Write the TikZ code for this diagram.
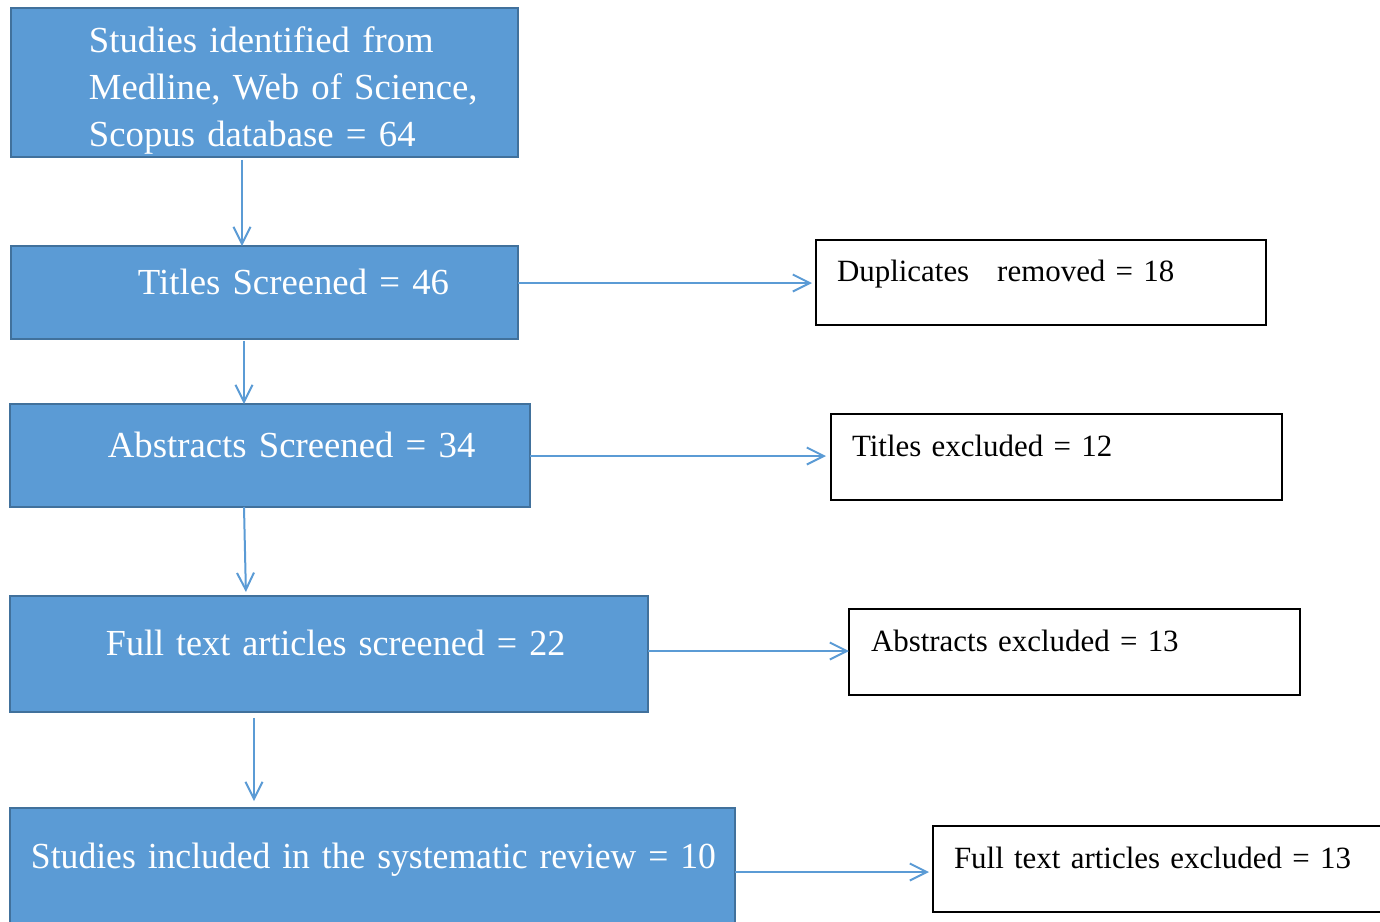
\documentclass[tikz,border=0pt]{standalone}
\usepackage{fontspec}
\setmainfont{Liberation Serif}
\usetikzlibrary{arrows.meta}
\definecolor{stagefill}{HTML}{5B9BD5}
\definecolor{stageedge}{HTML}{41719C}
\tikzset{
  stage/.style={draw=stageedge, fill=stagefill, line width=0.04cm, text=white, anchor=north west,
    align=left, inner ysep=0pt, outer sep=0pt, font=\fontsize{20.9}{26.7}\selectfont},
  excl/.style={draw=black, line width=0.035cm, anchor=north west,
    align=left, inner ysep=0pt, outer sep=0pt, font=\fontsize{17.6}{22}\selectfont},
  flow/.style={draw=stagefill, line width=0.04cm, -{Straight Barb[length=0.34cm,width=0.34cm]}}
}
\begin{document}
\begin{tikzpicture}[x=0.02cm, y=-0.02cm]
      \useasboundingbox (0,0) rectangle (1380,921);
      \node (b1) at (11,8) [stage, inner xsep=1.56cm, text width=7.02cm, text height=0.9cm, text depth=2.08cm]
        {\mbox{Studies identified from}\\\mbox{Medline, Web of Science,}\\\mbox{Scopus database = 64}};
      \node (b2) at (11,246) [stage, inner xsep=2.54cm, text width=5.06cm, text height=0.96cm, text depth=0.9cm]
        {\mbox{Titles Screened = 46}};
      \node (b3) at (10,404) [stage, inner xsep=1.96cm, text width=6.48cm, text height=1.06cm, text depth=1.0cm]
        {\mbox{Abstracts Screened = 34}};
      \node (b4) at (10,596) [stage, inner xsep=1.92cm, text width=8.92cm, text height=1.18cm, text depth=1.14cm]
        {\scalebox{0.983}[1]{Full text articles screened = 22}};
      \node (b5) at (10,808) [stage, inner xsep=0.42cm, text width=13.66cm, text height=1.2cm, text depth=1.64cm]
        {\scalebox{0.97}[1]{Studies included in the systematic review = 10}};
      \node (x1) at (816,240) [excl, inner xsep=0.42cm, text width=8.16cm, text height=0.82cm, text depth=0.88cm]
        {\mbox{Duplicates\hspace{0.56cm}removed = 18}};
      \node (x2) at (831,414) [excl, inner xsep=0.42cm, text width=8.18cm, text height=0.84cm, text depth=0.88cm]
        {\mbox{Titles excluded = 12}};
      \node (x3) at (849,609) [excl, inner xsep=0.44cm, text width=8.14cm, text height=0.84cm, text depth=0.88cm]
        {\mbox{Abstracts excluded = 13}};
      \node (x4) at (933,826) [excl, inner xsep=0.42cm, text width=8.36cm, text height=0.84cm, text depth=0.88cm]
        {\mbox{Full text articles excluded = 13}};
      \draw[flow, shorten <=0.06cm] (b1.south -| 242,0) -- (b2.north -| 242,0);
      \draw[flow, shorten <=0.04cm] (b2.south -| 244,0) -- (b3.north -| 244,0);
      \draw[flow, shorten >=0.08cm] (b3.south -| 244,0) -- (b4.north -| 246,0);
      \draw[flow, shorten <=0.12cm, shorten >=0.14cm] (b4.south -| 254,0) -- (b5.north -| 254,0);
      \draw[flow, shorten >=0.08cm] (b2.east |- 0,283) -- (x1.west |- 0,283);
      \draw[flow, shorten >=0.1cm] (b3.east |- 0,456) -- (x2.west |- 0,456);
      \draw[flow] (b4.east |- 0,651) -- (x3.west |- 0,651);
      \draw[flow, shorten >=0.08cm] (b5.east |- 0,872) -- (x4.west |- 0,872);
\end{tikzpicture}
\end{document}
